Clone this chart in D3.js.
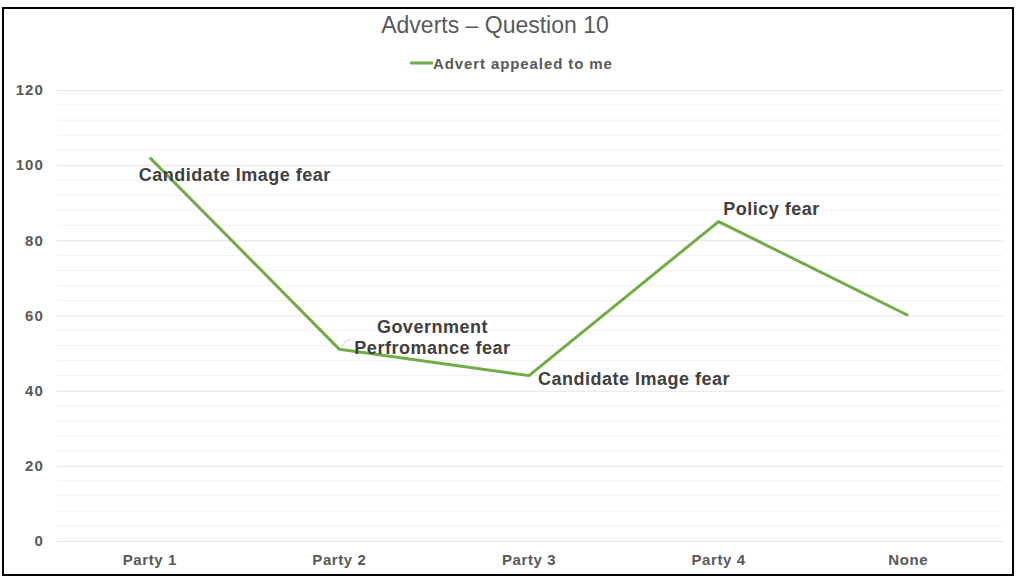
<!DOCTYPE html>
<html>
<head>
<meta charset="utf-8">
<script src="https://cdn.jsdelivr.net/npm/d3@7"></script>
<style>
  html, body { margin: 0; padding: 0; background: #fff; }
  svg { display: block; font-family: "Liberation Sans", Arial, sans-serif; }
</style>
</head>
<body>
<svg id="chart" width="1017" height="578"></svg>
<script>
// Chart data
const categories = ["Party 1", "Party 2", "Party 3", "Party 4", "None"];
const values = [102, 51, 44, 85, 60];
const seriesName = "Advert appealed to me";
const pointLabels = [
  ["Candidate Image fear"],
  ["Government", "Perfromance fear"],
  ["Candidate Image fear"],
  ["Policy fear"],
  []
];
const yTicks = [0, 20, 40, 60, 80, 100, 120];
const yMinorTicks = d3.range(0, 121, 4);
const titleText = "Adverts \u2013 Question 10";

const svg = d3.select("#chart");
const lineColor = "#70AD47";
const textColor = "#595959";

// Outer frame
svg.append("rect")
  .attr("x", 3).attr("y", 8).attr("width", 1010).attr("height", 567)
  .attr("fill", "#fff").attr("stroke", "#000").attr("stroke-width", 2);

const x = d3.scaleBand().domain(categories).range([55, 1003]);
const y = d3.scaleLinear().domain([0, 120]).range([541, 90]);

// Minor gridlines
svg.append("g")
  .selectAll("line")
  .data(yMinorTicks.filter(v => v % 20 !== 0))
  .join("line")
  .attr("x1", 57).attr("x2", 1003)
  .attr("y1", d => y(d)).attr("y2", d => y(d))
  .attr("stroke", "#f2f2f2").attr("stroke-width", 1);

// Major gridlines + y axis labels
const yAxis = d3.axisLeft(y).tickValues(yTicks).tickSize(-(1003 - 57));
const gy = svg.append("g").attr("transform", "translate(57,0)").call(yAxis);
gy.select(".domain").remove();
gy.selectAll(".tick line").attr("stroke", "#e3e3e3").attr("stroke-width", 1);
gy.selectAll(".tick text")
  .attr("fill", textColor).attr("font-size", 15).attr("font-weight", "bold")
  .attr("letter-spacing", 1.1)
  .attr("x", -13);

// X axis labels
const xAxis = d3.axisBottom(x).tickSize(0).tickPadding(13);
const gx = svg.append("g").attr("transform", "translate(0,541)").call(xAxis);
gx.select(".domain").remove();
gx.selectAll(".tick text")
  .attr("fill", textColor).attr("font-size", 15).attr("font-weight", "bold")
  .attr("letter-spacing", 0.6);

// Series line
const pts = categories.map((c, i) => [x(c) + x.bandwidth() / 2, y(values[i])]);
svg.append("path")
  .datum(pts)
  .attr("d", d3.line())
  .attr("fill", "none")
  .attr("stroke", lineColor)
  .attr("stroke-width", 3)
  .attr("stroke-linejoin", "round");

// Small leader mark from the Party 2 label
svg.append("path")
  .attr("d", `M${pts[1][0] + 3},${pts[1][1] - 4} L${pts[1][0] + 7},${pts[1][1] - 9} L${pts[1][0] + 12},${pts[1][1] - 10}`)
  .attr("fill", "none").attr("stroke", "#d0d0d0").attr("stroke-width", 1);

// Data labels
const labelOffsets = [
  [85, 23],
  [93, -16],
  [105, 9],
  [53, -7],
  [0, 0]
];
const labels = svg.append("g")
  .attr("font-size", 18).attr("font-weight", "bold").attr("fill", "#404040")
  .attr("letter-spacing", 0.5)
  .attr("text-anchor", "middle");
pointLabels.forEach((lines, i) => {
  if (!lines.length) return;
  const t = labels.append("text")
    .attr("x", pts[i][0] + labelOffsets[i][0])
    .attr("y", pts[i][1] + labelOffsets[i][1]);
  lines.forEach((ln, k) => {
    t.append("tspan")
      .attr("x", pts[i][0] + labelOffsets[i][0])
      .attr("dy", k === 0 ? 0 : 21)
      .text(ln);
  });
});

// Title
svg.append("text")
  .attr("x", 495).attr("y", 33)
  .attr("text-anchor", "middle")
  .attr("font-size", 23).attr("fill", textColor)
  .text(titleText);

// Legend
const lg = svg.append("g").attr("transform", "translate(410,63)");
lg.append("line").attr("x1", 0).attr("x2", 23).attr("y1", 0).attr("y2", 0)
  .attr("stroke", lineColor).attr("stroke-width", 3);
lg.append("text").attr("x", 23).attr("y", 5.5)
  .attr("font-size", 15).attr("font-weight", "bold").attr("fill", textColor)
  .attr("letter-spacing", 0.9)
  .text(seriesName);
</script>
</body>
</html>
